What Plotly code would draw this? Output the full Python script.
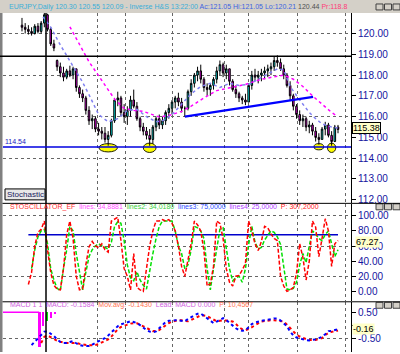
import plotly.graph_objects as go

W, H = 400, 354
def fx(p): return p / W
def fy(p): return 1 - p / H

# ---------------- data ----------------
opens = [120.40,120.30,120.20,120.10,120.00,120.35,120.10,120.50,120.90,120.20,
 119.50,118.70,118.40,118.10,117.90,118.20,118.00,118.30,117.40,117.10,
 116.90,116.30,115.80,115.90,115.40,115.30,115.20,114.90,115.10,115.80,
 116.80,116.90,116.20,116.00,116.30,116.80,116.50,115.90,115.50,115.30,
 115.10,114.90,115.50,115.90,115.60,115.80,116.20,116.40,116.70,116.90,
 116.70,116.40,116.40,117.20,117.60,118.00,118.20,117.80,117.40,117.30,
 117.50,117.80,118.20,118.50,118.10,118.30,117.70,117.30,117.10,116.90,
 116.80,116.70,117.50,118.00,117.90,118.00,118.10,118.20,118.30,118.40,
 118.70,118.60,118.30,118.00,117.50,117.00,116.50,116.10,115.80,115.90,
 115.50,115.60,115.30,115.00,114.90,115.40,115.60,115.10,114.80,115.50]
highs = [120.75,120.50,120.40,120.30,120.45,120.50,120.60,121.00,120.95,120.30,
 119.70,118.75,118.60,118.40,118.30,118.45,118.40,118.30,117.50,117.30,
 117.00,116.50,116.10,116.00,115.70,115.50,115.50,115.30,115.90,116.90,
 117.20,117.00,116.60,116.50,117.00,117.30,116.70,116.00,115.70,115.50,
 115.40,115.60,116.00,116.10,116.00,116.30,116.60,116.80,117.00,117.15,
 116.90,116.50,117.30,117.80,118.10,118.40,118.50,117.90,117.60,117.60,
 117.90,118.40,118.70,118.60,118.50,118.30,117.80,117.50,117.20,117.00,
 117.10,117.60,118.20,118.30,118.20,118.30,118.40,118.50,118.60,118.90,
 118.95,118.80,118.50,118.10,117.70,117.10,116.60,116.30,116.10,116.00,
 115.80,115.70,115.50,115.20,115.50,115.75,115.70,115.30,115.60,115.60]
lows = [120.10,120.00,119.95,119.90,119.95,120.00,120.00,120.30,120.10,119.40,
 119.15,118.20,117.90,117.70,117.80,117.90,117.80,117.20,116.90,116.70,
 116.10,115.60,115.40,115.25,115.10,114.90,114.75,114.60,115.00,115.70,
 116.50,116.00,115.70,115.60,116.00,116.40,115.80,115.30,115.10,114.90,
 114.60,114.70,115.30,115.40,115.40,115.60,115.90,116.10,116.40,116.50,
 116.20,116.00,116.30,117.00,117.40,117.70,117.60,117.20,117.00,117.00,
 117.30,117.60,118.00,117.90,117.80,117.50,117.20,116.90,116.70,116.60,
 116.55,116.70,117.30,117.70,117.60,117.70,117.80,117.90,118.00,118.20,
 118.40,118.20,117.80,117.40,116.80,116.30,115.90,115.60,115.50,115.30,
 115.20,115.10,114.80,114.65,114.90,115.10,115.00,114.60,114.80,115.20]
closes = [120.30,120.20,120.10,120.00,120.35,120.10,120.50,120.90,120.20,119.50,
 119.30,118.40,118.10,117.90,118.20,118.00,118.30,117.40,117.10,116.90,
 116.30,115.80,115.90,115.40,115.30,115.20,114.90,115.10,115.80,116.80,
 116.90,116.20,116.00,116.30,116.80,116.50,115.90,115.50,115.30,115.10,
 114.90,115.50,115.90,115.60,115.80,116.20,116.40,116.70,116.90,116.70,
 116.40,116.40,117.20,117.60,118.00,118.20,117.80,117.40,117.30,117.50,
 117.80,118.20,118.50,118.10,118.30,117.70,117.30,117.10,116.90,116.80,
 116.70,117.50,118.00,117.90,118.00,118.10,118.20,118.30,118.40,118.70,
 118.60,118.30,118.00,117.50,117.00,116.50,116.10,115.80,115.90,115.50,
 115.60,115.30,115.00,114.90,115.40,115.60,115.10,114.80,115.50,115.38]

ma_fast_x = [6.6, 9, 12, 15.7, 19, 21, 24, 27, 30, 33, 36, 39, 42, 44, 47, 50, 53, 56, 59,
             62, 65, 68, 71, 74, 77, 80, 82, 84, 87, 90, 92, 94, 97, 99]
ma_fast = [120.8, 120.3, 119.45, 118.5, 117.65, 117.05, 116.1, 115.75, 115.9, 116.3, 116.35,
           116.0, 115.75, 115.8, 116.1, 116.6, 117.1, 117.45, 117.6, 117.4, 117.6, 117.5,
           117.55, 117.8, 118.05, 118.3, 118.25, 117.45, 116.8, 116.2, 115.9, 115.65, 115.5, 115.45]
ma_slow_x = [15, 21, 25, 29.1, 32, 35, 38, 41, 43, 46, 50, 53, 57, 61, 65, 70, 75, 79, 82,
             85, 88, 91, 94, 97, 98.5]
ma_slow = [120.32, 118.64, 117.74, 116.82, 116.4, 116.3, 116.25, 116.1, 115.98, 116.05, 116.25,
           116.5, 116.9, 117.25, 117.4, 117.55, 117.8, 117.9, 118.0, 117.8, 117.45, 117.0,
           116.6, 116.2, 116.05]

neck_x = [51, 91.2]
neck_y = [116.0, 116.95]
support_level = 114.54
resistance_level = 118.9
marked_lows = [27, 40, 93, 97]

stoch_k_start = 2
stoch_k = [9, 25, 60, 78, 82, 93, 55, 25, 8, 3,
           2, 30, 75, 93, 70, 20, 2, 3, 35, 59,
           66, 60, 58, 63, 55, 52, 93, 96, 98, 67,
           30, 20, 2, 50, 5, 2, 0, 30, 60, 80,
           93, 93, 95, 93, 95, 90, 80, 60, 33, 20,
           40, 63, 93, 88, 80, 54, 7, 10, 33, 93,
           90, 70, 30, 12, 7, 20, 21, 28, 37, 93,
           80, 63, 54, 66, 86, 84, 76, 70, 67, 20,
           7, 0, 2, 5, 24, 63, 45, 15, 40, 93,
           85, 46, 70, 96, 80, 33, 63, 67.27]
stoch_d_start = 3
stoch_d = [30, 55, 72, 80, 82, 63, 30, 15, 4,
           1, 30, 55, 86, 80, 50, 24, 2, 25, 46,
           55, 60, 63, 60, 58, 56, 65, 86, 92, 90,
           67, 35, 18, 14, 26, 15, 8, 3, 28, 50,
           70, 86, 93, 93, 93, 93, 80, 60, 50, 30,
           35, 55, 86, 84, 80, 70, 30, 2, 30, 55,
           82, 84, 55, 30, 14, 18, 20, 12, 30, 62,
           86, 65, 56, 58, 68, 74, 80, 78, 72, 62,
           30, 3, 2, 4, 12, 35, 50, 38, 60, 80,
           76, 70, 67, 75, 80, 63, 46, 55]
stoch_level = 75

macd_start = 3
macd_main = [-0.77, -0.65, -0.5, -0.4, -0.25, -0.24, -0.33, -0.42, -0.55,
             -0.65, -0.69, -0.69, -0.65, -0.62, -0.7, -0.77, -0.8, -0.81, -0.81,
             -0.75, -0.67, -0.62, -0.56, -0.5, -0.4, -0.27, -0.14, -0.04, 0.03,
             0.08, 0.12, 0.15, 0.12, 0.08, 0.0, -0.1, -0.19, -0.25, -0.27,
             -0.24, -0.12, 0.0, 0.12, 0.17, 0.19, 0.19, 0.19, 0.17, 0.15,
             0.24, 0.32, 0.38, 0.44, 0.45, 0.36, 0.27, 0.15, 0.08, 0.14,
             0.22, 0.27, 0.2, 0.08, -0.04, -0.12, -0.19, -0.22, -0.2, -0.06,
             0.04, 0.1, 0.15, 0.17, 0.19, 0.2, 0.23, 0.26, 0.26, 0.18,
             0.08, -0.04, -0.25, -0.4, -0.48, -0.52, -0.55, -0.58, -0.59, -0.58,
             -0.55, -0.5, -0.45, -0.35, -0.23, -0.22, -0.2, -0.16]
signal_start = 6
macd_signal = [-0.69, -0.45, -0.4, -0.47, -0.53, -0.6,
               -0.64, -0.67, -0.69, -0.69, -0.69, -0.69, -0.72, -0.75, -0.77, -0.78,
               -0.78, -0.77, -0.73, -0.68, -0.63, -0.55, -0.44, -0.3, -0.16, -0.07,
               -0.02, 0.02, 0.06, 0.08, 0.07, 0.02, -0.05, -0.12, -0.19, -0.23,
               -0.22, -0.19, -0.1, 0.0, 0.08, 0.14, 0.17, 0.19, 0.19, 0.17,
               0.15, 0.2, 0.27, 0.33, 0.38, 0.37, 0.35, 0.28, 0.2, 0.15,
               0.17, 0.19, 0.18, 0.16, 0.14, 0.05, -0.08, -0.16, -0.19, -0.15,
               -0.07, 0.0, 0.08, 0.14, 0.16, 0.18, 0.19, 0.19, 0.18, 0.16,
               0.14, 0.02, -0.12, -0.25, -0.37, -0.44, -0.5, -0.54, -0.57, -0.58,
               -0.57, -0.54, -0.5, -0.38, -0.3, -0.26, -0.23, -0.21]
osma_base = 0.5
osma_x = [-6, 5.4]
osma_bar_x = [5.6, 6.7, 8.0, 9.2, 10.4]
osma_bar_low = [-0.85, -0.04, 0.15, 0.27, 0.42]
osma_bar_colors = ["#FF00FF", "#FF00FF", "#00E000", "#FF00FF", "#FF00FF"]

grid_bars = [23.8, 32.3, 47.3, 63.3, 71.1, 86.2, 101.2]
main_ticks = [112, 113, 114, 115, 116, 117, 118, 119, 120]
main_grid = [114, 116, 118, 120]
stoch_ticks = [0, 20, 40, 60, 80, 100]
stoch_grid = [20, 60, 100]
macd_ticks = [-0.5, 0.0, 0.5]
macd_ticktext = ["-0.50", "", "0.50"]
macd_grid = [-0.5]
marker_bar = 7.52

# ---------------- figure ----------------
bars = list(range(len(closes)))
k_x = list(range(stoch_k_start, stoch_k_start + len(stoch_k)))
d_x = list(range(stoch_d_start, stoch_d_start + len(stoch_d)))
m_x = list(range(macd_start, macd_start + len(macd_main)))
s_x = list(range(signal_start, signal_start + len(macd_signal)))

fig = go.Figure()
fig.add_trace(go.Candlestick(
    x=bars, open=opens, high=highs, low=lows, close=closes,
    increasing=dict(line=dict(color="black", width=1), fillcolor="#00E8E8"),
    decreasing=dict(line=dict(color="black", width=1), fillcolor="#E800E8"),
    whiskerwidth=0, showlegend=False, hoverinfo="skip", xaxis="x", yaxis="y"))
fig.add_trace(go.Scatter(x=ma_slow_x, y=ma_slow, mode="lines",
    line=dict(color="#FF00FF", width=1.5, dash="dot"), xaxis="x", yaxis="y",
    showlegend=False, hoverinfo="skip"))
fig.add_trace(go.Scatter(x=ma_fast_x, y=ma_fast, mode="lines",
    line=dict(color="#8080F0", width=1.5, dash="dot"), xaxis="x", yaxis="y",
    showlegend=False, hoverinfo="skip"))
fig.add_trace(go.Scatter(x=neck_x, y=neck_y, mode="lines",
    line=dict(color="#0000FF", width=2.5), xaxis="x", yaxis="y",
    showlegend=False, hoverinfo="skip"))

# stochastic
fig.add_trace(go.Scatter(x=[k_x[0], k_x[-1]], y=[stoch_level, stoch_level], mode="lines",
    line=dict(color="#0000CC", width=1.5), xaxis="x2", yaxis="y2",
    showlegend=False, hoverinfo="skip"))
fig.add_trace(go.Scatter(x=d_x, y=stoch_d, mode="lines",
    line=dict(color="#00E000", width=1.5, dash="4px,2px"), xaxis="x2", yaxis="y2",
    showlegend=False, hoverinfo="skip"))
fig.add_trace(go.Scatter(x=k_x, y=stoch_k, mode="lines",
    line=dict(color="#FF0000", width=1.5, dash="4px,2px"), xaxis="x2", yaxis="y2",
    showlegend=False, hoverinfo="skip"))

# macd
fig.add_trace(go.Scatter(x=osma_x, y=[osma_base, osma_base], mode="lines",
    line=dict(color="#FF00FF", width=1.5), xaxis="x3", yaxis="y3",
    showlegend=False, hoverinfo="skip"))
fig.add_trace(go.Bar(x=osma_bar_x, y=[v - osma_base for v in osma_bar_low], base=osma_base,
    marker=dict(color=osma_bar_colors, line=dict(width=0)), width=0.6,
    xaxis="x3", yaxis="y3", showlegend=False, hoverinfo="skip"))
fig.add_trace(go.Scatter(x=s_x, y=macd_signal, mode="lines",
    line=dict(color="#FF0000", width=2, dash="dot"), xaxis="x3", yaxis="y3",
    showlegend=False, hoverinfo="skip"))
fig.add_trace(go.Scatter(x=m_x, y=macd_main, mode="lines",
    line=dict(color="#0000FF", width=2, dash="dot"), xaxis="x3", yaxis="y3",
    showlegend=False, hoverinfo="skip"))

FONT = "Liberation Sans"
tickfont = dict(family=FONT, size=10, color="#1414A0")
xr = [-5.95, 103.07]
xdom = [fx(3), fx(351)]
xcommon = dict(range=xr, domain=xdom, showticklabels=False, ticks="", zeroline=False,
               showline=False, tickmode="array", tickvals=grid_bars, showgrid=True,
               gridcolor="#666666", griddash="dot", gridwidth=1, fixedrange=True)

def ycommon(dom, rng, ticks, grid, fmt, ticktext=None):
    d = dict(domain=dom, range=rng, side="right", tickmode="array", tickvals=ticks,
             tickformat=fmt, ticks="outside", ticklen=4, tickcolor="black", tickwidth=1,
             showline=True, linecolor="black", linewidth=1, showgrid=False, zeroline=False,
             tickfont=tickfont,
             minor=dict(tickmode="array", tickvals=grid, showgrid=True, gridcolor="#666666",
                        griddash="dot", gridwidth=1, ticks=""),
             fixedrange=True)
    if ticktext is not None:
        d["ticktext"] = ticktext
    return d

shapes = []
# header bar and left border
shapes.append(dict(type="rect", xref="paper", yref="paper", x0=0, x1=1, y0=fy(13), y1=1,
                   fillcolor="#D4D0C8", line=dict(width=0), layer="above"))
shapes.append(dict(type="rect", xref="paper", yref="paper", x0=0, x1=fx(2.5), y0=0, y1=fy(13),
                   fillcolor="#808080", line=dict(width=0), layer="above"))
# window buttons
for ytop in (4, 205, 304):
    for xl in (376, 384.5, 393):
        shapes.append(dict(type="rect", xref="paper", yref="paper", x0=fx(xl), x1=fx(xl + 7),
                           y0=fy(ytop + 6), y1=fy(ytop), fillcolor="#D4D0C8",
                           line=dict(color="#404040", width=1), layer="above"))
# panel separators
for ys in (204.5, 303.5):
    shapes.append(dict(type="line", xref="paper", yref="paper", x0=fx(2.5), x1=1,
                       y0=fy(ys), y1=fy(ys), line=dict(color="black", width=1)))
# vertical marker line
shapes.append(dict(type="line", xref="x", yref="paper", x0=marker_bar, x1=marker_bar,
                   y0=0, y1=fy(13), line=dict(color="black", width=1.5)))
# resistance and support
shapes.append(dict(type="line", xref="paper", yref="y", x0=0, x1=fx(351),
                   y0=resistance_level, y1=resistance_level, line=dict(color="black", width=1.5)))
shapes.append(dict(type="line", xref="paper", yref="y", x0=fx(3), x1=fx(351),
                   y0=support_level, y1=support_level, line=dict(color="#0000E0", width=1.5)))
# yellow ellipses at marked lows
ell_w = [5.8, 4.0, 3.0, 2.6]
ell_h = [0.4, 0.45, 0.3, 0.45]
for i, w, h in zip(marked_lows, ell_w, ell_h):
    c = lows[i] - 0.1
    shapes.append(dict(type="circle", xref="x", yref="y", x0=i - w / 2, x1=i + w / 2,
                       y0=c - h / 2, y1=c + h / 2, fillcolor="#FFFF00",
                       line=dict(color="#202000", width=1), layer="below"))
# "Stochastic" button
shapes.append(dict(type="rect", xref="paper", yref="paper", x0=fx(5), x1=fx(45),
                   y0=fy(201), y1=fy(190), fillcolor="#E8E8E8",
                   line=dict(color="black", width=1), layer="above"))

ann = []
hdr = ("<span style='color:#3AAFD8'>EURJPY,Daily 120.30 120.55 120.09 - Inverse H&amp;S 13:22:00</span>"
       "<span style='color:#3C64E0'> Ac:121.05 Hi:121.05 Lo:120.21</span>"
       "<span style='color:#505050'> 120.44</span>"
       "<span style='color:#FF3C78'> Pr:118.8</span>")
ann.append(dict(xref="paper", yref="paper", x=fx(7), y=fy(7), text=hdr, showarrow=False,
                xanchor="left", yanchor="middle", font=dict(family=FONT, size=7)))
ann.append(dict(xref="paper", yref="y", x=fx(3), y=support_level, text="114.54",
                showarrow=False, xanchor="left", yanchor="bottom",
                font=dict(family=FONT, size=7, color="#2020C0")))
ann.append(dict(xref="paper", yref="paper", x=fx(25), y=fy(195.5), text="Stochastic",
                showarrow=False, xanchor="center", yanchor="middle",
                font=dict(family=FONT, size=8, color="#202060")))
stoch_lbl = ("<span style='color:#FF3030'>STOSCILLATOR_EF</span>"
             "<span style='color:#FF50FF'>  lines: 34,8881</span>"
             "<span style='color:#40D040'>  lines2: 34,0180</span>"
             "<span style='color:#3050FF'>  lines3: 75,0000</span>"
             "<span style='color:#B040FF'>  lines4: 25,0000</span>"
             "<span style='color:#FF2020'>  P: 307,2000</span>")
ann.append(dict(xref="paper", yref="paper", x=fx(8), y=fy(208.5), text=stoch_lbl, showarrow=False,
                xanchor="left", yanchor="middle", font=dict(family=FONT, size=7)))
macd_lbl = ("<span style='color:#D060E0'>MACD 1 1  MACD: -0.1584</span>"
            "<span style='color:#FF7050'>  Mov.avg: -0.1430</span>"
            "<span style='color:#D060E0'>  Lead: MACD 0.000</span>"
            "<span style='color:#FF7050'>  P: 10,4567</span>")
ann.append(dict(xref="paper", yref="paper", x=fx(8), y=fy(306.5), text=macd_lbl, showarrow=False,
                xanchor="left", yanchor="middle", font=dict(family=FONT, size=7)))
# last value boxes
ann.append(dict(xref="paper", yref="y", x=fx(352), y=closes[-1], yshift=1, text=f"{closes[-1]:.2f}",
                showarrow=False, xanchor="left", yanchor="middle", bgcolor="#FFFFC8",
                bordercolor="black", borderwidth=1, borderpad=0,
                font=dict(family=FONT, size=9, color="black")))
ann.append(dict(xref="paper", yref="y2", x=fx(355), y=stoch_k[-1], yshift=-1, text=f"{stoch_k[-1]:.2f}",
                showarrow=False, xanchor="left", yanchor="middle", bgcolor="#FFFFC8",
                borderpad=0, font=dict(family=FONT, size=9, color="black")))
ann.append(dict(xref="paper", yref="y3", x=fx(352), y=macd_main[-1], text=f"{macd_main[-1]:.2f}",
                showarrow=False, xanchor="left", yanchor="middle", bgcolor="#FFFFC8",
                borderpad=0, font=dict(family=FONT, size=9, color="black")))

fig.update_layout(
    width=W, height=H, margin=dict(l=0, r=0, t=0, b=0),
    paper_bgcolor="white", plot_bgcolor="white", showlegend=False,
    bargap=0,
    xaxis=dict(anchor="y", rangeslider=dict(visible=False), **xcommon),
    xaxis2=dict(anchor="y2", matches="x", **xcommon),
    xaxis3=dict(anchor="y3", matches="x", **xcommon),
    yaxis=dict(anchor="x", **ycommon([fy(204), fy(13)], [111.85, 120.99], main_ticks, main_grid, ".2f")),
    yaxis2=dict(anchor="x2", **ycommon([fy(303), fy(205)], [-13.16, 115.8], stoch_ticks, stoch_grid, ".2f")),
    yaxis3=dict(anchor="x3", **ycommon([0, fy(304)], [-1.038, 0.885], macd_ticks, macd_grid, ".2f",
                                       macd_ticktext)),
    shapes=shapes, annotations=ann,
)

fig.write_html("out.html")
